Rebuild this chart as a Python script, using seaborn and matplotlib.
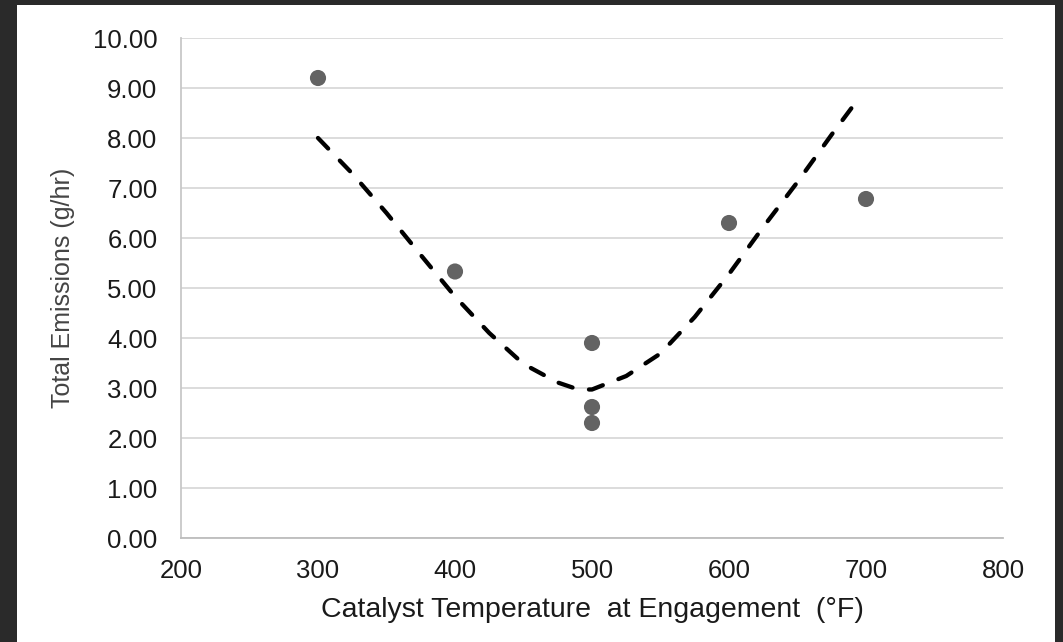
import matplotlib
matplotlib.use("Agg")
import matplotlib.pyplot as plt
import matplotlib.patches as mpatches
from matplotlib.ticker import FormatStrFormatter, MultipleLocator
import pandas as pd
import seaborn as sns

# measured points
temp_f = [300, 400, 500, 500, 500, 600, 700]
emissions = [9.20, 5.33, 3.90, 2.62, 2.30, 6.30, 6.78]

# dashed trend curve
trend_temp = [300, 325, 350, 375, 400, 425, 450, 475, 490, 500, 525, 550, 575, 600, 625, 650, 675, 693]
trend_val = [8.00, 7.29, 6.50, 5.66, 4.83, 4.10, 3.48, 3.11, 2.97, 2.97, 3.24, 3.69, 4.42, 5.28, 6.22, 7.12, 8.07, 8.73]

pts_df = pd.DataFrame({"temp": temp_f, "emis": emissions})
trend_df = pd.DataFrame({"temp": trend_temp, "emis": trend_val})

sns.set_style("white")
plt.rcParams["font.family"] = ["Liberation Sans", "DejaVu Sans"]

fig = plt.figure(figsize=(10.63, 6.42), dpi=100, facecolor="#2a2a2a")
# white card inside the dark frame
card = mpatches.Rectangle((17 / 1063, 0), 1038 / 1063, 637 / 642,
                          transform=fig.transFigure, facecolor="white",
                          edgecolor="none", zorder=-10)
fig.add_artist(card)
ax = fig.add_axes([181 / 1063, 1 - 538 / 642, 822 / 1063, 500 / 642])
ax.set_facecolor("white")

sns.lineplot(data=trend_df, x="temp", y="emis", ax=ax, color="black", lw=3.1,
             linestyle=(0, (3.4, 3.9)), dash_capstyle="round", sort=True, zorder=3)
sns.scatterplot(data=pts_df, x="temp", y="emis", ax=ax, color="#636363", s=135,
                edgecolor="none", zorder=4)

ax.set_xlim(200, 800)
ax.set_ylim(0, 10)
ax.xaxis.set_major_locator(MultipleLocator(100))
ax.yaxis.set_major_locator(MultipleLocator(1))
ax.yaxis.set_major_formatter(FormatStrFormatter("%.2f"))

ax.grid(axis="y", color="#d9d9d9", lw=1.3)
ax.grid(axis="x", visible=False)
ax.set_axisbelow(True)
for side in ["top", "right"]:
    ax.spines[side].set_visible(False)
ax.spines["left"].set_color("#c8c8c8")
ax.spines["left"].set_linewidth(1.3)
ax.spines["bottom"].set_color("#bdbdbd")
ax.spines["bottom"].set_linewidth(1.3)

ax.tick_params(axis="y", length=0, pad=17, labelsize=18.5, labelcolor="#1a1a1a")
ax.tick_params(axis="x", length=0, pad=15, labelsize=18.5, labelcolor="#1a1a1a")

ax.set_xlabel("Catalyst Temperature  at Engagement  (°F)", fontsize=20.5, color="#1a1a1a", labelpad=10)
ax.set_ylabel("Total Emissions (g/hr)", fontsize=18, color="#444444", labelpad=13)

fig.savefig("out.png", dpi=100, facecolor=fig.get_facecolor())
plt.close(fig)
